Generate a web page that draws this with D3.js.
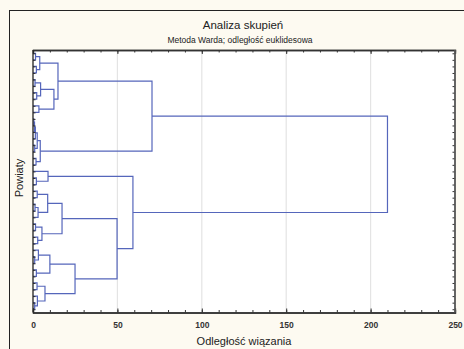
<!DOCTYPE html>
<html><head><meta charset="utf-8">
<script src="https://cdn.jsdelivr.net/npm/d3@7"></script>
<style>
html,body{margin:0;padding:0;background:#fdfaf1;}
svg{display:block;font-family:"Liberation Sans",Arial,sans-serif;}
</style></head>
<body>
<svg id="c" width="464" height="349"></svg>
<script>
// ---- data ----
const title = "Analiza skupień";
const subtitle = "Metoda Warda; odległość euklidesowa";
const xTitle = "Odległość wiązania";
const yTitle = "Powiaty";
const leaves = ["P1","P2","P3","P4","P5","P6","P7","P8","P9","P10",
  "P11","P12","P13","P14","P15","P16","P17","P18","P19","P20",
  "P21","P22","P23","P24","P25","P26","P27","P28","P29","P30",
  "P31","P32","P33","P34","P35","P36","P37","P38","P39","P40"];
// merge steps: indices < 40 are leaves, >= 40 refer to earlier merges (40 + step)
const mergeA = [0,2,40,4,6,43,8,45,42,10,49,50,14,51,16,53,48,19,18,21,23,60,59,26,28,63,62,31,30,33,68,35,38,37,71,70,66,58,56];
const mergeB = [1,3,41,5,7,44,9,46,47,11,12,13,15,52,17,54,55,20,57,22,24,25,61,27,29,64,65,32,67,34,69,36,39,72,73,74,75,76,77];
const mergeHeight = [1.5,2.0,4.0,1.2,2.2,4.5,3.5,12.4,14.8,0.5,0.9,1.4,1.0,2.5,1.8,4.3,70.5,2.0,8.9,2.5,1.2,3.0,8.7,1.5,2.8,5.3,17.2,1.0,3.2,2.0,10.0,2.4,1.0,2.6,7.1,24.9,49.8,59.2,210];
const xTicks = [0,50,100,150,200,250];
const xMinorTicks = [0,10,20,30,40,50,60,70,80,90,100,110,120,130,140,150,160,170,180,190,200,210,220,230,240,250];

// ---- layout ----
const svg = d3.select("#c");
const L = 33, R = 455, T = 50, B = 312.5;
const lineColor = "#5566bb";

svg.append("rect").attr("x",9.5).attr("y",10.5).attr("width",480).attr("height",360)
  .attr("fill","#fdfaf1").attr("stroke","#222").attr("stroke-width",1);
svg.append("rect").attr("x",L).attr("y",T).attr("width",R-L).attr("height",B-T).attr("fill","#fff");

const x = d3.scaleLinear().domain([0,250]).range([L,R]);
const y = d3.scalePoint().domain(leaves).range([T,B]).padding(0.5);

// grid
svg.append("g").selectAll("line").data(xTicks.filter(d=>d>0&&d<250)).join("line")
  .attr("x1",d=>x(d)).attr("x2",d=>x(d)).attr("y1",T).attr("y2",B)
  .attr("stroke","#e4e4e4").attr("stroke-width",1.2);

// build tree
const n = leaves.length;
function build(id){
  if(id < n) return {name: leaves[id], h: 0};
  const k = id - n;
  return {h: mergeHeight[k], children:[build(mergeA[k]), build(mergeB[k])]};
}
const root = d3.hierarchy(build(n + mergeHeight.length - 1));
root.eachAfter(d=>{
  if(!d.children) d.py = y(d.data.name);
  else d.py = (d.children[0].py + d.children[1].py)/2;
});
const links = [];
root.each(d=>{ if(d.children) links.push(d); });
svg.append("g").selectAll("path").data(links).join("path")
  .attr("fill","none").attr("stroke",lineColor).attr("stroke-width",1.2)
  .attr("d",d=>{
    const a = d.children[0], b = d.children[1];
    return `M${x(a.data.h)},${a.py}H${x(d.data.h)}V${b.py}H${x(b.data.h)}`;
  });
// root stub
svg.append("path").attr("fill","none").attr("stroke",lineColor).attr("stroke-width",1.2)
  .attr("d",`M${x(root.data.h)},${root.py}H${x(root.data.h)}`);

// axes
const axColor = "#333";
const bottomMinor = svg.append("g").attr("transform",`translate(0,${B})`)
  .call(d3.axisBottom(x).tickValues(xMinorTicks).tickSize(-2.5).tickFormat(""));
const bottom = svg.append("g").attr("transform",`translate(0,${B})`)
  .call(d3.axisBottom(x).tickValues(xTicks).tickSize(-4).tickPadding(9).tickFormat(d3.format("d")));
const topMinor = svg.append("g").attr("transform",`translate(0,${T})`)
  .call(d3.axisTop(x).tickValues(xMinorTicks).tickSize(-2.5).tickFormat(""));
const topAx = svg.append("g").attr("transform",`translate(0,${T})`)
  .call(d3.axisTop(x).tickValues(xTicks).tickSize(-4).tickFormat(""));
const leftAx = svg.append("g").attr("transform",`translate(${L},0)`)
  .call(d3.axisLeft(y).tickSize(-2.5).tickFormat(""));
const rightAx = svg.append("g").attr("transform",`translate(${R},0)`)
  .call(d3.axisRight(y).tickSize(-2.5).tickFormat(""));
[bottomMinor,bottom,topMinor,topAx,leftAx,rightAx].forEach(g=>{
  g.selectAll(".domain").attr("stroke",axColor).attr("stroke-width",1.3);
  g.selectAll(".tick line").attr("stroke",axColor);
});
[leftAx,rightAx].forEach(g=>g.select(".domain").attr("d",null));
svg.append("line").attr("x1",L).attr("x2",L).attr("y1",T).attr("y2",B).attr("stroke","#222").attr("stroke-width",1.3);
svg.append("line").attr("x1",R).attr("x2",R).attr("y1",T).attr("y2",B).attr("stroke","#555").attr("stroke-width",1.8);
bottom.selectAll(".tick text").attr("font-size",8.5).attr("font-weight","bold").attr("fill","#333")
  .attr("font-family","\"Liberation Sans\",Arial,sans-serif");

// titles
svg.append("text").attr("x",243).attr("y",29).attr("text-anchor","middle")
  .attr("font-size",11.5).attr("fill","#222").text(title);
svg.append("text").attr("x",240).attr("y",43).attr("text-anchor","middle")
  .attr("font-size",8.5).attr("fill","#222").text(subtitle);
svg.append("text").attr("x",244).attr("y",345).attr("text-anchor","middle")
  .attr("font-size",11).attr("fill","#222").text(xTitle);
svg.append("text").attr("transform","translate(23,178) rotate(-90)").attr("text-anchor","middle")
  .attr("font-size",11).attr("fill","#222").text(yTitle);
</script>
</body></html>
